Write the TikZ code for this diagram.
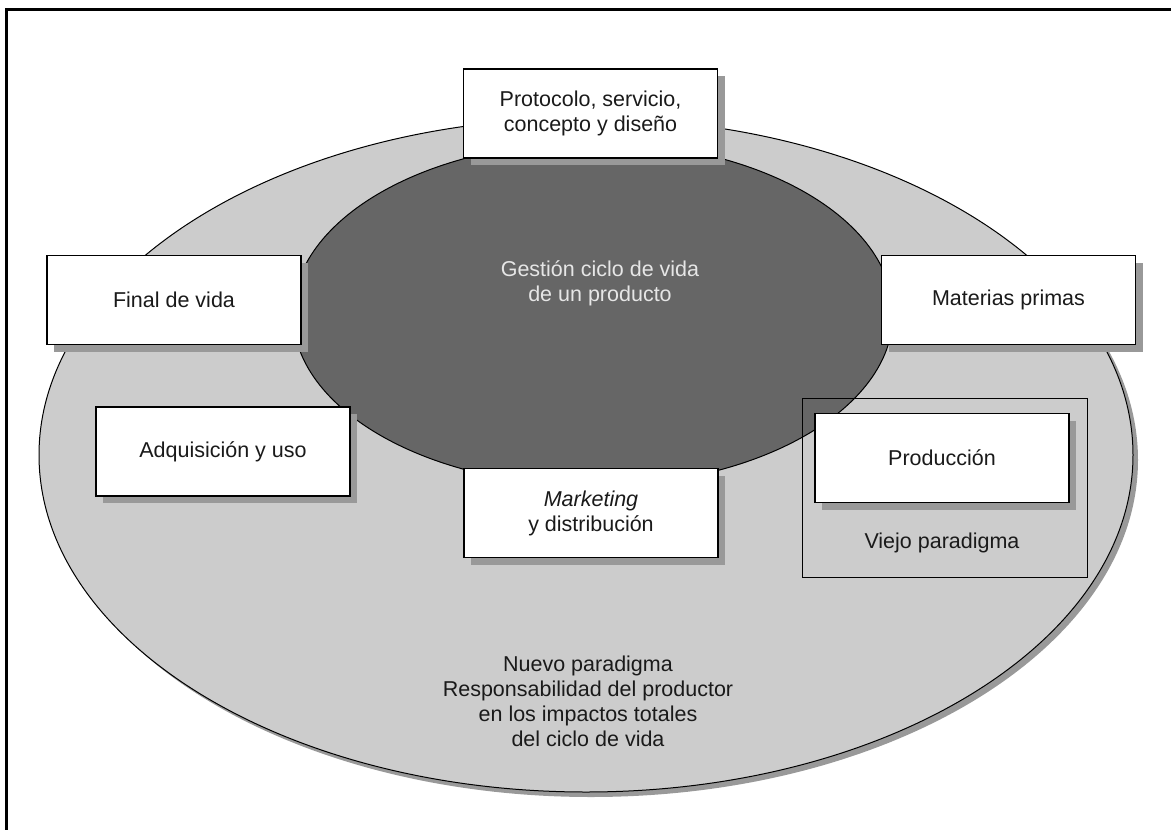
\documentclass[tikz,border=0pt]{standalone}
\usepackage{fontspec}
\setmainfont{Liberation Sans}
\usetikzlibrary{shapes.geometric,shadows}
\definecolor{outerfill}{HTML}{CCCCCC}
\definecolor{innerfill}{HTML}{666666}
\definecolor{shadowgray}{HTML}{999999}
\definecolor{innertext}{HTML}{E6E6E6}
\definecolor{txt}{HTML}{1A1A1A}
\tikzset{
  stagebox/.style={draw=black, line width=1.1pt, fill=white, rectangle,
    minimum width=254pt, minimum height=89pt, inner sep=0pt, align=center,
    text=txt, font=\fontsize{21.5}{25}\selectfont,
    drop shadow={shadow xshift=7pt, shadow yshift=-7pt, fill=shadowgray, opacity=1}},
  plaintext/.style={align=center, text=txt, font=\fontsize{21.5}{25}\selectfont, inner sep=0pt},
}
\begin{document}
\begin{tikzpicture}[x=1pt,y=-1pt]
\useasboundingbox (0,0) rectangle (1171,830);
% frame (top and left edges)
\draw[line width=2.6pt, black] (1171,9.5) -- (6.5,9.5) -- (6.5,830);
% outer ellipse
\node[ellipse, draw=black, line width=1pt, fill=outerfill, minimum width=1094pt, minimum height=674pt, inner sep=0pt,
  drop shadow={shadow xshift=5pt, shadow yshift=-5pt, fill=shadowgray, opacity=1}] (outer) at (586,455) {};
% inner ellipse
\node[ellipse, draw=black, line width=1pt, fill=innerfill, minimum width=600pt, minimum height=344pt, inner sep=0pt] (inner) at (593,314) {};
\node[plaintext, text=innertext] (gestion) at (600,283) {Gestión ciclo de vida\\de un producto};
% old paradigm frame
\node[draw=black, line width=1pt, rectangle, minimum width=285pt, minimum height=179pt, inner sep=0pt] (viejo) at (944.5,487.5) {};
\node[plaintext] (viejotxt) at (942,543) {Viejo paradigma};
% stage boxes
\node[stagebox] (protocolo) at (590.5,113.5) {Protocolo, servicio,\\concepto y diseño};
\node[stagebox] (final) at (174,300) {Final de vida};
\node[stagebox] (materias) at (1008.5,300) {Materias primas};
\node[stagebox] (adquisicion) at (223,451.5) {Adquisición y uso};
\node[stagebox] (marketing) at (591,513) {\textit{Marketing}\\y distribución};
\node[stagebox] (produccion) at (942,458) {Producción};
% new paradigm text
\node[plaintext] (nuevo) at (588,701) {Nuevo paradigma\\Responsabilidad del productor\\en los impactos totales\\del ciclo de vida};
\end{tikzpicture}
\end{document}
